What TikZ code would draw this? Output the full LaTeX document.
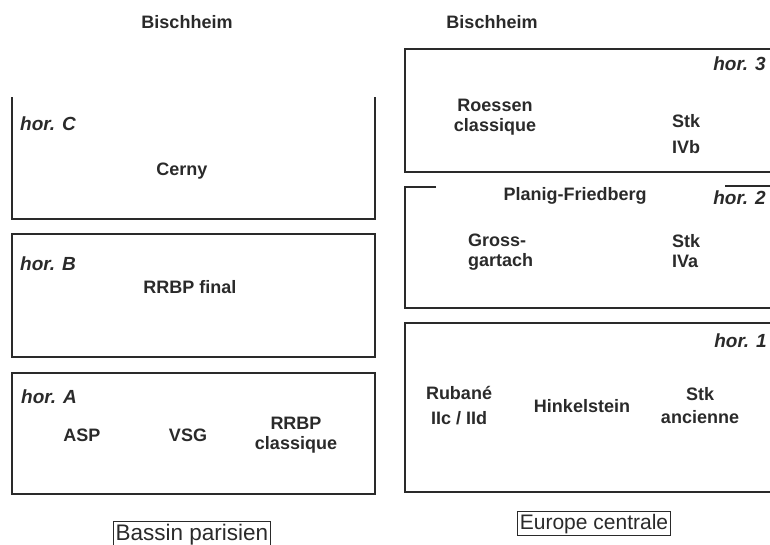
\documentclass[tikz,border=0pt]{standalone}
\usepackage{fontspec}
\setmainfont{Liberation Sans}
\definecolor{inkgray}{HTML}{2A2A2A}
\tikzset{culture/.style={rectangle,draw=none,text=inkgray,
inner sep=0pt,align=center,font=\bfseries\fontsize{18}{20}\selectfont}}
\tikzset{horizon/.style={rectangle,draw=none,text=inkgray,
inner sep=0pt,font=\bfseries\itshape\fontsize{19}{22}\selectfont}}
\tikzset{region/.style={rectangle,draw=inkgray,line width=0.8pt,text=inkgray,
inner sep=2pt,font=\fontsize{21}{24}\selectfont}}
\tikzset{phase/.style={draw=inkgray,line width=1.4pt}}

\begin{document}
\begin{tikzpicture}[x=1pt,y=-1pt]
        \useasboundingbox (0,0) rectangle (770,544);

        \draw[phase] (12,97) -- (12,219) -- (375,219) -- (375,97);
        \draw[phase] (12,234) rectangle (375,357);
        \draw[phase] (12,373) rectangle (375,494);

        \draw[phase] (770,49) -- (405,49) -- (405,172) -- (770,172);
        \draw[phase] (436,187) -- (405,187) -- (405,308) -- (770,308);
        \draw[phase] (725,186) -- (770,186);
        \draw[phase] (770,323) -- (405,323) -- (405,492) -- (770,492);

        \node[culture, anchor=base] (bischL) at (187,28) {Bischheim};
        \node[culture, anchor=base] (bischR) at (492,28) {Bischheim};

        \node[horizon, anchor=base west] (horC) at (20,130) {hor. C};
        \node[culture, anchor=base] (cerny) at (182,175) {Cerny};

        \node[horizon, anchor=base west] (horB) at (20,270) {hor. B};
        \node[culture, anchor=base] (rrbpF) at (190,293) {RRBP final};

        \node[horizon, anchor=base west] (horA) at (21,403) {hor. A};
        \node[culture, anchor=base] (asp) at (82,441) {ASP};
        \node[culture, anchor=base] (vsg) at (188,441) {VSG};
        \node[culture, anchor=north] (rrbpC) at (296,417) {RRBP\\classique};

        \node[horizon, anchor=base east] (hor3) at (766,70) {hor. 3};
        \node[culture, anchor=north] (roessen) at (495,99) {Roessen\\classique};
        \node[culture, anchor=north] (stkIVb) at (686,114) {Stk\\[6pt]IVb};

        \node[horizon, anchor=base east] (hor2) at (766,204) {hor. 2};
        \node[culture, anchor=base] (planig) at (575,200) {Planig-Friedberg};
        \node[culture, anchor=north west, align=left] (gross) at (468,234) {Gross-\\gartach};
        \node[culture, anchor=north west, align=left] (stkIVa) at (672,234) {Stk\\IVa};

        \node[horizon, anchor=base east] (hor1) at (767,347) {hor. 1};
        \node[culture, anchor=north] (rubane) at (459,386) {Rubané\\[5pt]IIc / IId};
        \node[culture, anchor=base] (hinkel) at (582,412) {Hinkelstein};
        \node[culture, anchor=north] (stkAnc) at (700,387) {Stk\\[3pt]ancienne};

        \node[region, anchor=base, font=\fontsize{22.5}{26}\selectfont] (bassin) at (192,540) {Bassin parisien};
        \node[region, anchor=base] (europe) at (594,529) {Europe centrale};

    \end{tikzpicture}
\end{document}
